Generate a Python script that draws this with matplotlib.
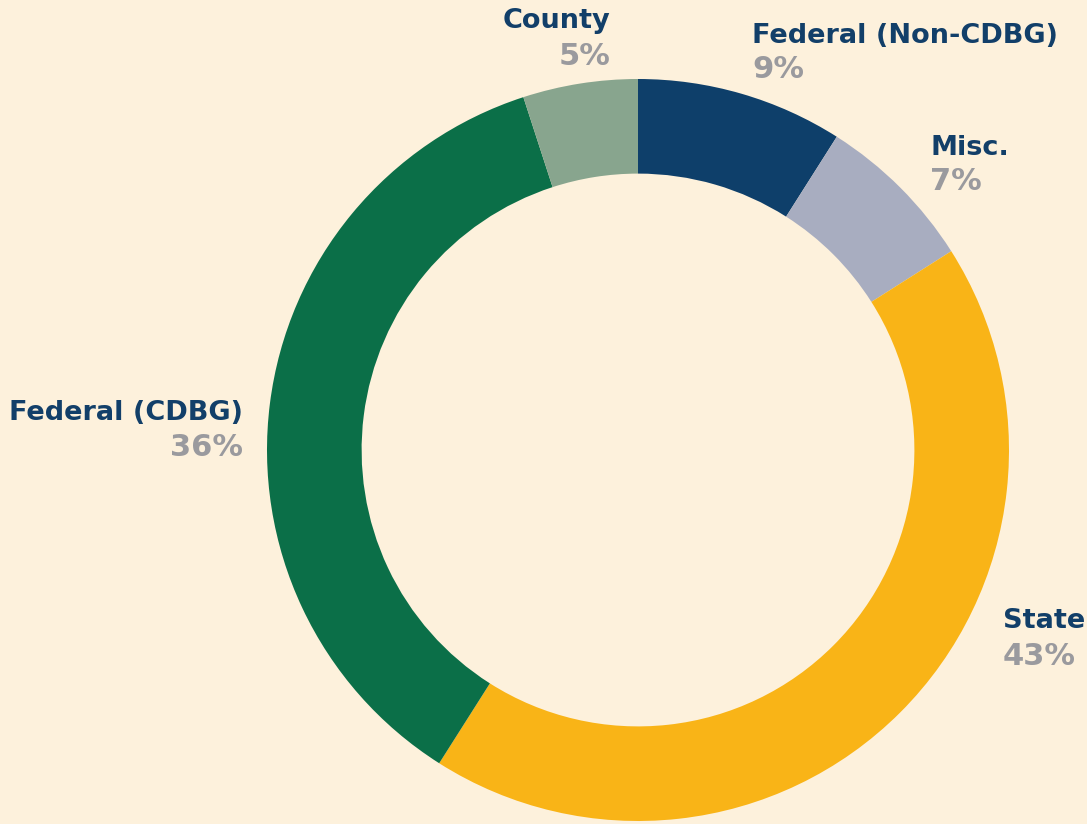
import matplotlib
matplotlib.use("Agg")
import matplotlib.pyplot as plt

# funding sources, clockwise from 12 o'clock
sources = ["Federal (Non-CDBG)", "Misc.", "State", "Federal (CDBG)", "County"]
shares = [9, 7, 43, 36, 5]
colors = ["#0E3F6A", "#A8ADC0", "#F9B417", "#0B6F48", "#88A58E"]

BG = "#FDF1DC"
NAVY = "#123F69"
GREY = "#9A9A9E"

W, H = 1087, 824
cx, cy, R = 638, 450, 371  # donut centre and radius in pixels

fig = plt.figure(figsize=(W / 100, H / 100), dpi=100, facecolor=BG)
ax = fig.add_axes([0, 0, 1, 1])
ax.set_facecolor(BG)

ax.pie(shares, colors=colors, startangle=90, counterclock=False, radius=1,
       wedgeprops=dict(width=0.255, linewidth=0))

ax.set_xlim(-cx / R, (W - cx) / R)
ax.set_ylim(-(H - cy) / R, cy / R)
ax.set_aspect("equal")
ax.axis("off")

# label anchor (x, name baseline, pct baseline) in pixels, plus alignment
label_pos = {
    "County": (610, 28, 65, "right"),
    "Federal (Non-CDBG)": (752, 43, 78, "left"),
    "Misc.": (930, 155, 190, "left"),
    "State": (1003, 628, 665, "left"),
    "Federal (CDBG)": (243, 420, 456, "right"),
}

def to_data(px, py):
    return (px - cx) / R, (cy - py) / R

for name, pct in zip(sources, shares):
    x, yb, yp, ha = label_pos[name]
    tx, ty = to_data(x, yb)
    ax.text(tx, ty, name, ha=ha, va="baseline", fontsize=19.5,
            fontweight="bold", family="DejaVu Sans", color=NAVY)
    tx, ty = to_data(x, yp)
    ax.text(tx, ty, f"{pct}%", ha=ha, va="baseline", fontsize=22,
            fontweight="bold", family="DejaVu Sans", color=GREY)

fig.savefig("out.png", dpi=100, facecolor=BG)
